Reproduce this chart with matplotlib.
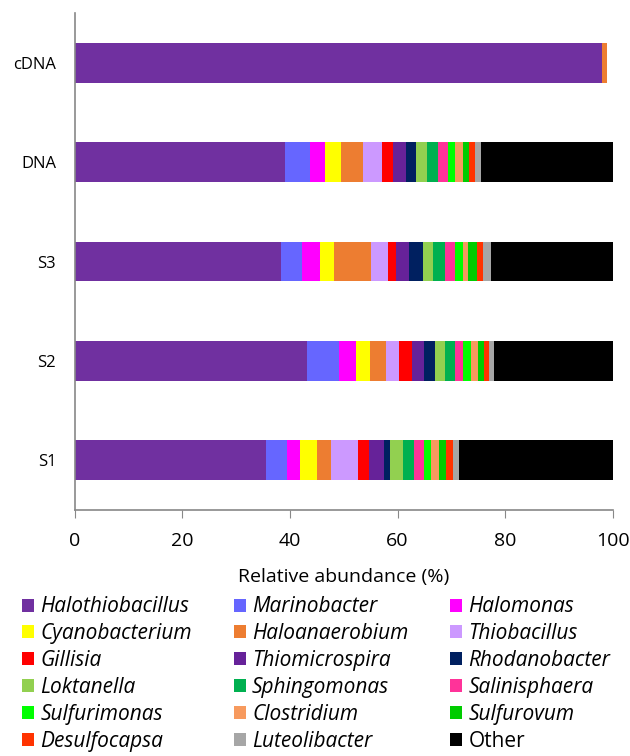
import matplotlib.pyplot as plt
from matplotlib.patches import Patch

plt.rcParams['font.family'] = ['Open Sans', 'DejaVu Sans']

samples = ['S1', 'S2', 'S3', 'DNA', 'cDNA']

genera = ['Halothiobacillus', 'Marinobacter', 'Halomonas', 'Cyanobacterium',
          'Haloanaerobium', 'Thiobacillus', 'Gillisia', 'Thiomicrospira',
          'Rhodanobacter', 'Loktanella', 'Sphingomonas', 'Salinisphaera',
          'Sulfurimonas', 'Clostridium', 'Sulfurovum', 'Desulfocapsa',
          'Luteolibacter', 'Other']

colors = ['#7030A0', '#6666FF', '#FF00FF', '#FFFF00', '#ED7D31', '#CC99FF',
          '#FF0000', '#662299', '#002060', '#92D050', '#00B050', '#FF3399',
          '#00FF00', '#F79A5E', '#00CC00', '#FF3300', '#A6A6A6', '#000000']

# relative abundance (%) per genus, in sample order S1, S2, S3, DNA, cDNA
s1 = [35.6, 3.9, 2.4, 3.1, 2.6, 5.0, 2.1, 2.7, 1.2, 2.4, 2.0, 1.9, 1.3, 1.6, 1.3, 1.3, 1.0, 28.6]
s2 = [43.1, 6.0, 3.1, 2.7, 2.9, 2.5, 2.4, 2.2, 2.0, 1.9, 1.9, 1.5, 1.5, 1.3, 1.1, 1.0, 0.9, 22.0]
s3 = [38.3, 3.9, 3.3, 2.7, 6.9, 3.1, 1.6, 2.4, 2.5, 1.9, 2.2, 1.9, 1.5, 1.0, 1.5, 1.2, 1.4, 22.7]
dna = [39.0, 4.7, 2.8, 2.9, 4.2, 3.5, 2.1, 2.3, 2.0, 2.0, 2.0, 1.8, 1.4, 1.4, 1.2, 1.1, 1.2, 24.4]
cdna = [98.0, 0.0, 0.0, 0.0, 0.9, 0, 0, 0, 0, 0, 0, 0, 0, 0, 0, 0, 0, 0]

table = [s1, s2, s3, dna, cdna]

fig = plt.figure(figsize=(6.3, 7.56), dpi=100)
ax = fig.add_axes([0.119, 0.3254, 0.8533, 0.6574])

left = [0.0] * len(samples)
for g, name in enumerate(genera):
    vals = [row[g] for row in table]
    ax.barh(range(len(samples)), vals, left=left, height=0.4,
            color=colors[g], label=name)
    left = [l + v for l, v in zip(left, vals)]

ax.set_xlim(0, 100)
ax.set_ylim(-0.5, 4.5)
ax.set_xticks([0, 20, 40, 60, 80, 100])
ax.set_yticks(range(len(samples)))
ax.set_yticklabels(samples)
ax.tick_params(axis='y', length=0, pad=13.5, labelsize=12)
ax.tick_params(axis='x', direction='out', length=6, color='#888888',
               labelsize=14, pad=10)
for s in ['top', 'right']:
    ax.spines[s].set_visible(False)
for s in ['left', 'bottom']:
    ax.spines[s].set_color('#888888')
    ax.spines[s].set_linewidth(1.2)
ax.set_xlabel('Relative abundance (%)', fontsize=14, labelpad=13)

# legend reads row by row in the reference
handles = [Patch(facecolor=c, edgecolor='none') for c in colors]
order = list(range(0, 18, 3)) + list(range(1, 18, 3)) + list(range(2, 18, 3))
leg = fig.legend([handles[i] for i in order], [genera[i] for i in order],
                 ncol=3, loc='upper left', bbox_to_anchor=(0.035, 0.211),
                 frameon=False, fontsize=15, handlelength=0.58,
                 handleheight=0.58, handletextpad=0.3, columnspacing=2.0,
                 labelspacing=0.28, borderpad=0, borderaxespad=0)
for t in leg.get_texts():
    if t.get_text() != 'Other':
        t.set_style('italic')

fig.savefig('out.png', dpi=100)
